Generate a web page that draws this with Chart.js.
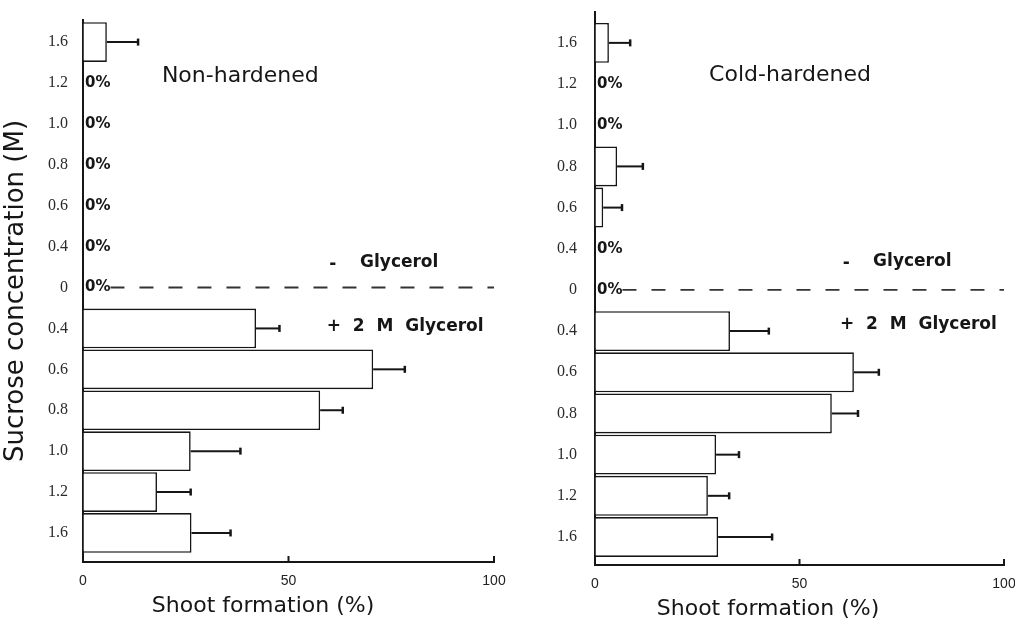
<!DOCTYPE html>
<html>
<head>
<meta charset="utf-8">
<title>Shoot formation after cryopreservation</title>
<script src="https://cdn.jsdelivr.net/npm/chart.js@4.4.0/dist/chart.umd.min.js"></script>
<style>
    html, body { margin: 0; padding: 0; background: #fff; }
    .panel { position: absolute; top: 0; }
    #leftPanel { left: 0; }
    #rightPanel { left: 507px; }
</style>
</head>
<body>
<div class="panel" id="leftPanel"><canvas id="leftChart" width="507" height="618"></canvas></div>
<div class="panel" id="rightPanel"><canvas id="rightChart" width="508" height="618"></canvas></div>
<script>
// Sucrose concentration (M), top to bottom: without glycerol, then with 2 M glycerol
const sucroseLabels = ['1.6', '1.2', '1.0', '0.8', '0.6', '0.4', '0', '0.4', '0.6', '0.8', '1.0', '1.2', '1.6'];
const xTicks = [0, 50, 100];

// Shoot formation (%) and error bars
const nonHardened = [5.8, 0, 0, 0, 0, 0, 0, 42.1, 70.6, 57.7, 26.2, 18.0, 26.4];
const nonHardenedErr = [7.6, 0, 0, 0, 0, 0, 0, 5.7, 7.7, 5.5, 12.1, 8.2, 9.5];
const coldHardened = [3.4, 0, 0, 5.4, 2.0, 0, 0, 33.0, 63.3, 57.9, 29.6, 27.6, 30.1];
const coldHardenedErr = [5.2, 0, 0, 6.3, 4.6, 0, 0, 9.5, 6.1, 6.4, 5.6, 5.2, 13.2];

const INK = '#161616';
const SANS = '"DejaVu Sans", sans-serif';
const BOLD = 'bold 17px ' + SANS;

// Error bars, 0% labels, dashed separator, annotations and x title
const panelMarks = {
    id: 'panelMarks',
    afterDatasetsDraw(chart, args, opts) {
        const { ctx, chartArea, scales: { x, y } } = chart;
        ctx.save();

        // error bars
        ctx.strokeStyle = INK;
        ctx.lineWidth = 2;
        opts.values.forEach((v, i) => {
            if (!v) return;
            const x0 = x.getPixelForValue(v);
            const x1 = x.getPixelForValue(v + opts.errors[i]);
            const yy = y.getPixelForValue(i);
            ctx.beginPath();
            ctx.moveTo(x0, yy);
            ctx.lineTo(x1, yy);
            ctx.stroke();
            ctx.lineWidth = 2.5;
            ctx.beginPath();
            ctx.moveTo(x1, yy - 3.5);
            ctx.lineTo(x1, yy + 3.5);
            ctx.stroke();
            ctx.lineWidth = 2;
        });

        // 0% labels for empty rows
        ctx.fillStyle = INK;
        ctx.font = 'bold 15px ' + SANS;
        ctx.textAlign = 'left';
        ctx.textBaseline = 'middle';
        let zeroEnd = x.getPixelForValue(0);
        opts.values.forEach((v, i) => {
            if (v !== 0) return;
            const lx = x.getPixelForValue(0) + 2;
            ctx.fillText('0%', lx, y.getPixelForValue(i));
            if (i === opts.splitIndex) zeroEnd = lx + ctx.measureText('0%').width;
        });

        // dashed line between - glycerol and + glycerol
        const sy = y.getPixelForValue(opts.splitIndex);
        ctx.strokeStyle = '#333';
        ctx.lineWidth = 1.8;
        ctx.setLineDash([14, 15]);
        ctx.beginPath();
        ctx.moveTo(zeroEnd, sy);
        ctx.lineTo(chartArea.right, sy);
        ctx.stroke();
        ctx.setLineDash([]);

        // text notes
        opts.notes.forEach(n => {
            ctx.font = n.font;
            ctx.fillText(n.text, x.getPixelForValue(n.x), y.getPixelForValue(n.y));
        });

        // x axis title
        ctx.font = '22px ' + SANS;
        ctx.textAlign = 'center';
        ctx.fillText('Shoot formation (%)', x.getPixelForValue(opts.titleX), chartArea.bottom + 44);

        // small inward ticks on the x axis
        ctx.strokeStyle = INK;
        ctx.lineWidth = 2;
        xTicks.forEach(t => {
            const tx = x.getPixelForValue(t);
            ctx.beginPath();
            ctx.moveTo(tx, chartArea.bottom);
            ctx.lineTo(tx, chartArea.bottom - 6);
            ctx.stroke();
        });
        ctx.restore();
    }
};

function makePanel(canvasId, values, errors, cfg) {
    const ctx = document.getElementById(canvasId);
    if (!ctx) return;

    new Chart(ctx, {
        type: 'bar',
        data: {
            datasets: [{
                data: values.map((v, i) => ({ x: v, y: i })),
                backgroundColor: '#ffffff',
                borderColor: INK,
                borderWidth: 1.6,
                borderSkipped: 'start',
                barPercentage: 0.97,
                categoryPercentage: 1
            }]
        },
        options: {
            indexAxis: 'y',
            responsive: false,
            animation: false,
            layout: {
                padding: { top: cfg.padTop, right: cfg.padRight, bottom: 0, left: 0 }
            },
            plugins: {
                legend: { display: false },
                tooltip: { enabled: false },
                panelMarks: {
                    values: values,
                    errors: errors,
                    splitIndex: 6,
                    notes: cfg.notes,
                    titleX: cfg.titleX
                }
            },
            scales: {
                x: {
                    type: 'linear',
                    min: 0,
                    max: 100,
                    afterBuildTicks: scale => { scale.ticks = xTicks.map(v => ({ value: v })); },
                    afterFit: scale => {
                        scale.height = cfg.xHeight;
                        scale.paddingLeft = 0;
                        scale.paddingRight = 0;
                    },
                    grid: { drawOnChartArea: false, drawTicks: false },
                    border: { color: INK, width: 2 },
                    ticks: {
                        padding: 11,
                        color: '#222',
                        font: { family: '"Liberation Sans", Arial, sans-serif', size: 14 }
                    }
                },
                y: {
                    type: 'linear',
                    reverse: true,
                    offset: false,
                    min: cfg.yMin,
                    max: cfg.yMax,
                    afterBuildTicks: scale => { scale.ticks = sucroseLabels.map((l, i) => ({ value: i })); },
                    afterFit: scale => {
                        scale.width = cfg.yWidth;
                        scale.paddingTop = 0;
                        scale.paddingBottom = 0;
                    },
                    grid: { drawOnChartArea: false, drawTicks: false, offset: false },
                    border: { color: INK, width: 2 },
                    ticks: {
                        autoSkip: false,
                        padding: cfg.tickPad,
                        color: '#2a2a2a',
                        font: { family: '"Liberation Serif", "Times New Roman", serif', size: 16 },
                        callback: value => sucroseLabels[value]
                    },
                    title: {
                        display: cfg.yTitle,
                        text: 'Sucrose concentration (M)',
                        color: INK,
                        font: { family: SANS, size: 26 },
                        padding: { top: 1, bottom: 0 }
                    }
                }
            }
        },
        plugins: [panelMarks]
    });
}

document.addEventListener('DOMContentLoaded', function() {
    makePanel('leftChart', nonHardened, nonHardenedErr, {
        padTop: 20,
        padRight: 13,
        yWidth: 83,
        xHeight: 56,
        yMin: -0.54,
        yMax: 12.71,
        tickPad: 15,
        yTitle: true,
        titleX: 43.8,
        notes: [
            { text: 'Non-hardened', x: 19.2, y: 0.83, font: '22px ' + SANS },
            { text: '-', x: 59.9, y: 5.45, font: BOLD },
            { text: 'Glycerol', x: 67.4, y: 5.4, font: BOLD },
            { text: '+  2  M  Glycerol', x: 59.3, y: 6.95, font: BOLD }
        ]
    });

    makePanel('rightChart', coldHardened, coldHardenedErr, {
        padTop: 12,
        padRight: 11,
        yWidth: 88,
        xHeight: 53,
        yMin: -0.75,
        yMax: 12.68,
        tickPad: 18,
        yTitle: false,
        titleX: 42.3,
        notes: [
            { text: 'Cold-hardened', x: 27.9, y: 0.78, font: '22px ' + SANS },
            { text: '-', x: 60.6, y: 5.35, font: BOLD },
            { text: 'Glycerol', x: 68.0, y: 5.3, font: BOLD },
            { text: '+  2  M  Glycerol', x: 59.9, y: 6.85, font: BOLD }
        ]
    });
});
</script>
</body>
</html>
